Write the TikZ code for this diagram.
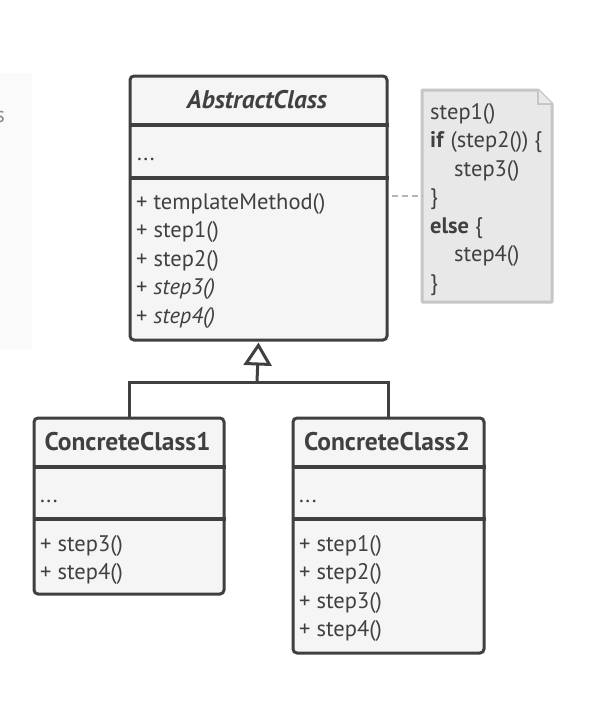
\documentclass[tikz,border=0pt]{standalone}
\usepackage{fontspec}
\setmainfont{PT Sans}
\usetikzlibrary{arrows.meta}
\definecolor{dark}{HTML}{404040}
\definecolor{boxfill}{HTML}{F5F5F5}
\definecolor{notefill}{HTML}{E8E8E8}
\definecolor{noteline}{HTML}{C6C6C6}
\definecolor{dashcol}{HTML}{B5B5B5}
\definecolor{faint}{HTML}{FAFAFA}
\begin{document}
\begin{tikzpicture}[x=1pt,y=-1pt,
  umlbox/.style={draw=dark, line width=3pt, fill=boxfill, rounded corners=4pt, inner sep=0pt, anchor=north west},
  divider/.style={draw=dark, line width=3.5pt},
  hdr/.style={text=dark, font=\fontsize{25.5}{30}\selectfont\bfseries, inner sep=0pt},
  txt/.style={text=dark, font=\fontsize{22.5}{26}\selectfont, inner sep=0pt, anchor=base west},
  inh/.style={draw=dark, line width=3pt},
  dashline/.style={draw=dashcol, line width=2pt, dash pattern=on 6pt off 4pt}
]
\useasboundingbox (0,0) rectangle (598,715);
% faint left panel
\fill[faint] (0,73) rectangle (32,349);
\begin{scope}
\clip (0,73) rectangle (32,349);
\node[text=black!45, font=\fontsize{22}{26}\selectfont, inner sep=0pt, anchor=base east] (cut) at (5,122) {s};
\end{scope}

% AbstractClass
\node[umlbox, minimum width=257pt, minimum height=264pt] (abs) at (128.5,74.5) {};
\draw[divider] (abs.west |- 0,125) -- (abs.east |- 0,125);
\draw[divider] (abs.west |- 0,178) -- (abs.east |- 0,178);
\node[hdr, font=\fontsize{25.5}{30}\selectfont\bfseries\itshape] (absh) at (257,100) {AbstractClass};
\node[txt] (absa) at (137,160) {...};
\node[txt] (am1) at (136,209) {+ templateMethod()};
\node[txt] (am2) at (136,237.5) {+ step1()};
\node[txt] (am3) at (136,266) {+ step2()};
\node[txt] (am4) at (136,294.5) {+ \textit{step3()}};
\node[txt] (am5) at (136,323) {+ \textit{step4()}};

% Note
\fill[notefill] (422,90) -- (538,90) -- (552,104) -- (552,302) -- (422,302) -- cycle;
\draw[noteline, line width=3pt, line join=round] (422,90) -- (538,90) -- (552,104) -- (552,302) -- (422,302) -- cycle;
\draw[noteline, line width=2pt, fill=notefill!90!white] (538,90) -- (538,104) -- (552,104);
\node[inner sep=0pt, minimum width=130pt, minimum height=212pt, anchor=north west] (note) at (422,90) {};
\node[txt] (n1) at (430,119) {step1()};
\node[txt] (n2) at (430,147.5) {\textbf{if} (step2()) \{};
\node[txt] (n3) at (454,176) {step3()};
\node[txt] (n4) at (430,204.5) {\}};
\node[txt] (n5) at (430,233) {\textbf{else} \{};
\node[txt] (n6) at (454,261.5) {step4()};
\node[txt] (n7) at (430,290) {\}};
\coordinate (dy) at (0,196);
\draw[dashline] (abs.east |- dy) ++(3,0) -- (note.west |- dy);

% ConcreteClass1
\node[umlbox, minimum width=190pt, minimum height=176pt] (cc1) at (32.5,416.5) {};
\draw[divider] (cc1.west |- 0,467) -- (cc1.east |- 0,467);
\draw[divider] (cc1.west |- 0,519) -- (cc1.east |- 0,519);
\node[hdr] (cc1h) at (127.5,442) {ConcreteClass1};
\node[txt] (cc1a) at (40,502) {...};
\node[txt] (c1m1) at (40,551) {+ step3()};
\node[txt] (c1m2) at (40,579.5) {+ step4()};

% ConcreteClass2
\node[umlbox, minimum width=191pt, minimum height=235pt] (cc2) at (291.5,416.5) {};
\draw[divider] (cc2.west |- 0,467) -- (cc2.east |- 0,467);
\draw[divider] (cc2.west |- 0,519) -- (cc2.east |- 0,519);
\node[hdr] (cc2h) at (387,442) {ConcreteClass2};
\node[txt] (cc2a) at (299,502) {...};
\node[txt] (c2m1) at (299,551) {+ step1()};
\node[txt] (c2m2) at (299,579.5) {+ step2()};
\node[txt] (c2m3) at (299,608) {+ step3()};
\node[txt] (c2m4) at (299,636.5) {+ step4()};

% Inheritance
\coordinate (joint) at (257,382);
\draw[inh] (cc1.north) |- (joint) -| (cc2.north);
\draw[inh, -{Triangle[open, length=23pt, width=28pt, line width=3pt]}] (joint) -- ([yshift=-1pt]abs.south);
\end{tikzpicture}
\end{document}
